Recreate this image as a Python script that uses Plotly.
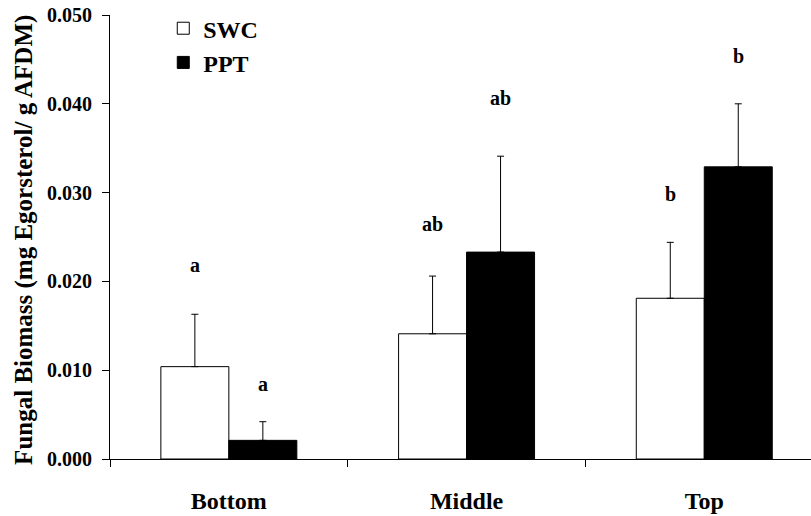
import plotly.graph_objects as go

categories = ["Bottom", "Middle", "Top"]
swc_mean = [0.0104, 0.0141, 0.0181]
swc_err = [0.0059, 0.0065, 0.0063]
ppt_mean = [0.0021, 0.0233, 0.0329]
ppt_err = [0.0021, 0.0108, 0.0071]
swc_letters = ["a", "ab", "b"]
swc_letter_y = [0.0218, 0.0265, 0.0298]
ppt_letters = ["a", "ab", "b"]
ppt_letter_y = [0.0085, 0.0407, 0.0454]
y_ticks = [0.0, 0.01, 0.02, 0.03, 0.04, 0.05]

FONT = "Liberation Serif"

fig = go.Figure()
fig.add_trace(go.Bar(
    name="<b>SWC</b>", x=categories, y=swc_mean,
    marker=dict(color="white", line=dict(color="black", width=1)),
    error_y=dict(type="data", symmetric=False, array=swc_err,
                 arrayminus=[0] * len(swc_err), color="black", thickness=1, width=3.5),
))
fig.add_trace(go.Bar(
    name="<b>PPT</b>", x=categories, y=ppt_mean,
    marker=dict(color="black", line=dict(color="black", width=1)),
    error_y=dict(type="data", symmetric=False, array=ppt_err,
                 arrayminus=[0] * len(ppt_err), color="black", thickness=1, width=3.5),
))

off = 0.143
annotations = []
for i, (t, yv) in enumerate(zip(swc_letters, swc_letter_y)):
    annotations.append(dict(x=i - off, y=yv, xref="x", yref="y", text="<b>%s</b>" % t,
                            showarrow=False, yanchor="middle",
                            font=dict(family=FONT, size=20, color="black")))
for i, (t, yv) in enumerate(zip(ppt_letters, ppt_letter_y)):
    annotations.append(dict(x=i + off, y=yv, xref="x", yref="y", text="<b>%s</b>" % t,
                            showarrow=False, yanchor="middle",
                            font=dict(family=FONT, size=20, color="black")))
annotations.append(dict(
    x=-0.123, y=0.493, xref="paper", yref="paper",
    text="<b>Fungal Biomass (mg Egorsterol/ g AFDM)</b>", textangle=-90, showarrow=False,
    font=dict(family=FONT, size=25, color="black"), xanchor="center", yanchor="middle"))

fig.update_layout(
    width=811, height=516,
    margin=dict(l=110, r=0, t=15, b=57),
    paper_bgcolor="white", plot_bgcolor="white",
    barmode="group", bargap=0.428, bargroupgap=0,
    font=dict(family=FONT, color="black"),
    showlegend=True,
    legend=dict(x=0.076, y=1.02, xanchor="left", yanchor="top",
                font=dict(family=FONT, size=24, color="black"),
                bgcolor="rgba(0,0,0,0)", tracegroupgap=0),
    annotations=annotations,
)
fig.update_xaxes(
    range=[-0.5, 2.449], showline=True, linecolor="black", linewidth=1,
    ticks="outside", ticklen=7, tickcolor="black", tickson="boundaries",
    tickvals=categories, ticktext=["<b>%s</b>" % c for c in categories],
    tickfont=dict(family=FONT, size=24, color="black"), ticklabelstandoff=20,
    showgrid=False, zeroline=False,
)
fig.update_yaxes(
    range=[0, 0.05], tickvals=y_ticks, ticktext=["<b>%.3f</b>" % v for v in y_ticks],
    showline=True, linecolor="black", linewidth=1,
    ticks="outside", ticklen=7, tickcolor="black",
    tickfont=dict(family=FONT, size=20, color="black"), ticklabelstandoff=6,
    showgrid=False, zeroline=False,
)

fig.write_html("out.html", config={"displayModeBar": False},
               post_script="document.body.style.margin='0px';")
